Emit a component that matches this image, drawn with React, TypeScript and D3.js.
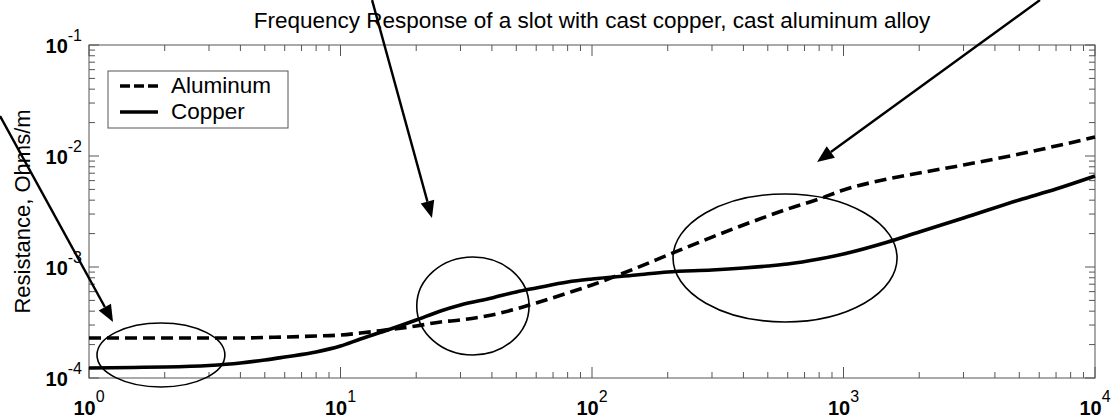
import React from "react";
import * as d3 from "d3";

document.body.style.margin = "0";

// frequency points (Hz) shared by both series
const freqs = [1, 1.5, 2, 3, 4, 5, 6, 8, 10, 12, 15, 20, 25, 30, 40, 50, 60, 80, 100, 150, 200, 300, 400, 500, 600, 800, 1000, 1500, 2000, 3000, 5000, 7000, 10000];

// resistance, Ohms/m
const copper = [1.23e-4, 1.245e-4, 1.256e-4, 1.297e-4, 1.365e-4, 1.453e-4, 1.546e-4, 1.715e-4, 1.94e-4, 2.245e-4, 2.65e-4, 3.33e-4, 4.02e-4, 4.55e-4, 5.26e-4, 5.96e-4, 6.47e-4, 7.33e-4, 7.8e-4, 8.47e-4, 9.02e-4, 9.4e-4, 9.8e-4, 1.021e-3, 1.064e-3, 1.18e-3, 1.31e-3, 1.68e-3, 2.07e-3, 2.76e-3, 4.02e-3, 5.04e-3, 6.6e-3];
const aluminum = [2.29e-4, 2.29e-4, 2.29e-4, 2.29e-4, 2.29e-4, 2.32e-4, 2.34e-4, 2.39e-4, 2.44e-4, 2.54e-4, 2.7e-4, 2.94e-4, 3.2e-4, 3.33e-4, 3.7e-4, 4.19e-4, 4.74e-4, 5.83e-4, 6.89e-4, 9.8e-4, 1.28e-3, 1.86e-3, 2.39e-3, 2.88e-3, 3.33e-3, 4.1e-3, 4.94e-3, 6.21e-3, 7.03e-3, 8.3e-3, 1.04e-2, 1.23e-2, 1.48e-2];

const xTickExps = [0, 1, 2, 3, 4];
const yTickExps = [-4, -3, -2, -1];

const legendLabels = ["Aluminum", "Copper"];

// annotation ellipses: [fLow, fHigh, rLow, rHigh]
const ellipses = [
  [1.076, 3.47, 8.3e-5, 3.13e-4],
  [20.1, 56.2, 1.61e-4, 1.23e-3],
  [210, 1633, 3.2e-4, 4.55e-3],
];
// annotation arrows: [fromF, fromR, toF, toR]
const arrows = [
  [0.443, 0.0229, 1.246, 3.2e-4],
  [13.35, 0.254, 23.1, 2.76e-3],
  [6042, 0.254, 785, 8.83e-3],
];

const W = 1112;
const H = 418;
const m = { left: 89, right: 17, top: 45, bottom: 40 };
const font = "'Liberation Sans', Arial, Helvetica, sans-serif";

export default function App() {
  const x = d3.scaleLog().domain([1, 1e4]).range([m.left, W - m.right]);
  const y = d3.scaleLog().domain([1e-4, 1e-1]).range([H - m.bottom, m.top]);
  const [x0, x1] = x.range();
  const [yb, yt] = y.range();

  const line = d3
    .line<number>()
    .x((_, i) => x(freqs[i]))
    .y((d) => y(d))
    .curve(d3.curveMonotoneX);

  const xMinor: number[] = [];
  for (let e = 0; e < 4; e++) for (let k = 2; k <= 9; k++) xMinor.push(k * 10 ** e);
  const yMinor: number[] = [];
  for (let e = -4; e < -1; e++) for (let k = 2; k <= 9; k++) yMinor.push(k * 10 ** e);

  const axisCol = "#555";

  return (
    <svg width={W} height={H} style={{ display: "block", background: "#fff" }} fontFamily={font}>
      {/* title */}
      <text x={(x0 + x1) / 2} y={28} textAnchor="middle" fontSize={22.5} fill="#000">
        Frequency Response of a slot with cast copper, cast aluminum alloy
      </text>

      {/* y label */}
      <text transform={`translate(30,${(yb + yt) / 2}) rotate(-90)`} textAnchor="middle" fontSize={22} fill="#000">
        Resistance, Ohms/m
      </text>

      {/* box */}
      <rect x={x0} y={yt} width={x1 - x0} height={yb - yt} fill="none" stroke={axisCol} strokeWidth={1} />

      {/* ticks */}
      <g stroke={axisCol} strokeWidth={1}>
        {xTickExps.map((e) => {
          const px = x(10 ** e);
          return (
            <g key={"xm" + e}>
              <line x1={px} x2={px} y1={yb} y2={yb - 11} />
              <line x1={px} x2={px} y1={yt} y2={yt + 11} />
            </g>
          );
        })}
        {xMinor.map((v) => {
          const px = x(v);
          return (
            <g key={"xn" + v}>
              <line x1={px} x2={px} y1={yb} y2={yb - 6} />
              <line x1={px} x2={px} y1={yt} y2={yt + 6} />
            </g>
          );
        })}
        {yTickExps.map((e) => {
          const py = y(10 ** e);
          return (
            <g key={"ym" + e}>
              <line x1={x0} x2={x0 + 10} y1={py} y2={py} />
              <line x1={x1} x2={x1 - 10} y1={py} y2={py} />
            </g>
          );
        })}
        {yMinor.map((v) => {
          const py = y(v);
          return (
            <g key={"yn" + v}>
              <line x1={x0} x2={x0 + 6} y1={py} y2={py} />
              <line x1={x1} x2={x1 - 6} y1={py} y2={py} />
            </g>
          );
        })}
      </g>

      {/* tick labels */}
      {xTickExps.map((e) => (
        <text key={"xl" + e} x={x(10 ** e)} y={yb + 37} textAnchor="middle" fill="#000">
          <tspan fontSize={20} fontWeight="bold">10</tspan>
          <tspan fontSize={16} dy={-13}>{e}</tspan>
        </text>
      ))}
      {yTickExps.map((e) => (
        <text key={"yl" + e} x={82} y={y(10 ** e) + 8} textAnchor="end" fill="#000">
          <tspan fontSize={20} fontWeight="bold">10</tspan>
          <tspan fontSize={16} dy={-12}>{e}</tspan>
        </text>
      ))}

      {/* series */}
      <path d={line(aluminum) ?? ""} fill="none" stroke="#000" strokeWidth={3.6} strokeDasharray="12,6" />
      <path d={line(copper) ?? ""} fill="none" stroke="#000" strokeWidth={3.6} />

      {/* legend */}
      <g>
        <rect x={108} y={71} width={180} height={57} fill="#fff" stroke={axisCol} strokeWidth={1} />
        <line x1={120} x2={158} y1={86} y2={86} stroke="#000" strokeWidth={3.6} strokeDasharray="10,4" />
        <line x1={120} x2={158} y1={112} y2={112} stroke="#000" strokeWidth={3.6} />
        <text x={171} y={93} fontSize={22.5} fill="#000">{legendLabels[0]}</text>
        <text x={171} y={119} fontSize={22.5} fill="#000">{legendLabels[1]}</text>
      </g>

      {/* annotations */}
      {ellipses.map(([fa, fb, ra, rb], i) => {
        const cx = (x(fa) + x(fb)) / 2;
        const cy = (y(ra) + y(rb)) / 2;
        return (
          <ellipse key={"el" + i} cx={cx} cy={cy} rx={Math.abs(x(fb) - x(fa)) / 2} ry={Math.abs(y(ra) - y(rb)) / 2} fill="none" stroke="#000" strokeWidth={1.6} />
        );
      })}
      {arrows.map(([fa, ra, fb, rb], i) => {
        const ax = x(fa), ay = y(ra), bx = x(fb), by = y(rb);
        const ang = Math.atan2(by - ay, bx - ax);
        const len = 17, hw = 7;
        const baseX = bx - len * Math.cos(ang), baseY = by - len * Math.sin(ang);
        const px = -Math.sin(ang) * hw, py = Math.cos(ang) * hw;
        return (
          <g key={"ar" + i}>
            <line x1={ax} y1={ay} x2={baseX} y2={baseY} stroke="#000" strokeWidth={2.4} />
            <polygon points={`${bx},${by} ${baseX + px},${baseY + py} ${baseX - px},${baseY - py}`} fill="#000" />
          </g>
        );
      })}
    </svg>
  );
}
